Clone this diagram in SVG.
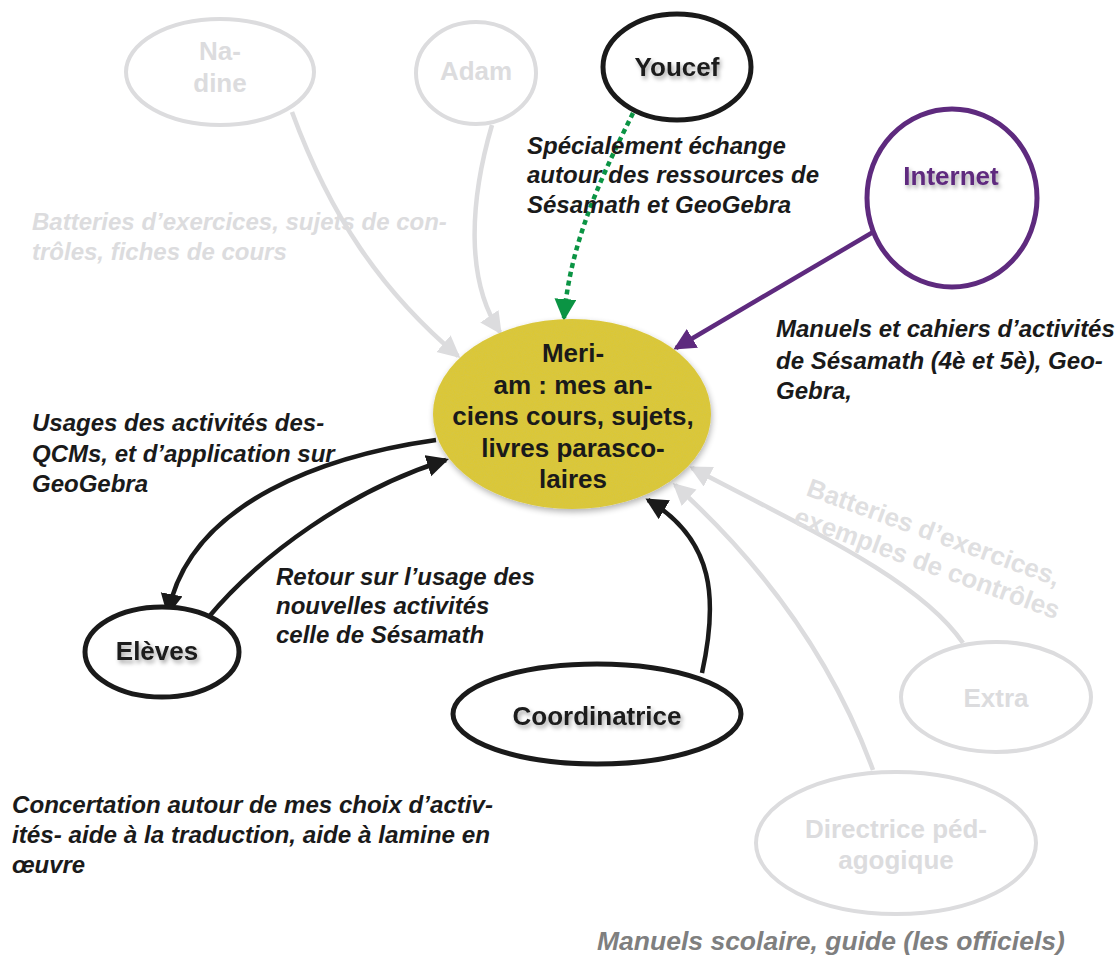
<svg xmlns="http://www.w3.org/2000/svg" width="1118" height="959" viewBox="0 0 1118 959">
<defs>
<style>
.n{font-family:"Liberation Sans",Arial,Helvetica,sans-serif;font-weight:bold;font-size:26px;text-anchor:middle}
.l{font-family:"Liberation Sans",Arial,Helvetica,sans-serif;font-weight:bold;font-style:italic;font-size:24px}
.r{font-family:"Liberation Sans",Arial,Helvetica,sans-serif;font-weight:bold;font-size:26px;fill:#dfdfe1}
.gs{fill:none;stroke:#dcdcde;stroke-width:4}
.bs{fill:#fff;stroke:#1a1a1a;stroke-width:5}
.gt{fill:#dcdcde}
.bt{fill:#1a1a1a}
.c{fill:none;stroke-width:4.5}
</style>
<filter id="sh" x="-20%" y="-40%" width="140%" height="180%">
<feDropShadow dx="2" dy="3" stdDeviation="2" flood-color="#000" flood-opacity="0.35"/>
</filter>
<filter id="esh" x="-10%" y="-10%" width="120%" height="125%">
<feTurbulence type="fractalNoise" baseFrequency="0.9" numOctaves="2" seed="3" result="n"/>
<feColorMatrix in="n" type="matrix" values="0 0 0 0 0.6  0 0 0 0 0.55  0 0 0 0 0.1  0 0 0 0.6 -0.2" result="c"/>
<feComposite in="c" in2="SourceGraphic" operator="in" result="cc"/>
<feMerge result="tex"><feMergeNode in="SourceGraphic"/><feMergeNode in="cc"/></feMerge>
<feGaussianBlur in="SourceAlpha" stdDeviation="3" result="b"/>
<feOffset in="b" dx="1" dy="3" result="ob"/>
<feComponentTransfer in="ob" result="obs"><feFuncA type="linear" slope="0.3"/></feComponentTransfer>
<feMerge><feMergeNode in="obs"/><feMergeNode in="tex"/></feMerge>
</filter>
<marker id="ab" markerUnits="userSpaceOnUse" markerWidth="24" markerHeight="24" refX="19" refY="11" orient="auto"><path d="M0,0 L22,11 L0,22 z" fill="#1a1a1a"/></marker>
<marker id="ag" markerUnits="userSpaceOnUse" markerWidth="24" markerHeight="24" refX="19" refY="11" orient="auto"><path d="M0,0 L22,11 L0,22 z" fill="#dcdcde"/></marker>
<marker id="ap" markerUnits="userSpaceOnUse" markerWidth="24" markerHeight="24" refX="19" refY="11" orient="auto"><path d="M0,0 L22,11 L0,22 z" fill="#5e2a7e"/></marker>
<marker id="agr" markerUnits="userSpaceOnUse" markerWidth="24" markerHeight="24" refX="19" refY="11" orient="auto"><path d="M0,0 L22,11 L0,22 z" fill="#0b9444"/></marker>
</defs>
<rect width="1118" height="959" fill="#fff"/>

<g id="connectors">
<path class="c" stroke="#dcdcde" d="M292,112 C330,215 380,290 458,356" marker-end="url(#ag)"/>
<path class="c" stroke="#dcdcde" d="M492,125 C470,200 465,280 500,332" marker-end="url(#ag)"/>
<path class="c" stroke="#dcdcde" d="M963,643 C920,580 810,530 692,468" marker-end="url(#ag)"/>
<path class="c" stroke="#dcdcde" d="M873,770 C840,680 780,580 675,485" marker-end="url(#ag)"/>
<path class="c" stroke="#0b9444" stroke-dasharray="5 4" d="M633,113 C605,170 570,240 564,318" marker-end="url(#agr)"/>
<path class="c" stroke="#5e2a7e" d="M880,228 L676,348" marker-end="url(#ap)"/>
<path class="c" stroke="#1a1a1a" d="M436,440 C330,455 190,500 168,613" marker-end="url(#ab)"/>
<path class="c" stroke="#1a1a1a" d="M207,619 C260,555 350,490 446,460" marker-end="url(#ab)"/>
<path class="c" stroke="#1a1a1a" d="M702,673 C718,600 715,540 648,500" marker-end="url(#ab)"/>
</g>

<g id="nadine">
<ellipse class="gs" fill="#fff" cx="220" cy="72" rx="94" ry="53"/>
<text class="n gt" x="220" y="60">Na-</text>
<text class="n gt" x="220" y="92">dine</text>
</g>
<g id="adam">
<ellipse class="gs" fill="#fff" cx="476" cy="73" rx="60" ry="51"/>
<text class="n gt" x="476" y="80">Adam</text>
</g>
<g id="youcef">
<ellipse class="bs" cx="677" cy="67" rx="74" ry="53"/>
<text class="n bt" x="677" y="76" filter="url(#sh)">Youcef</text>
</g>
<g id="internet">
<ellipse fill="#fff" stroke="#5e2a7e" stroke-width="5" cx="952" cy="198" rx="85" ry="89"/>
<text class="n" fill="#5e2a7e" x="951" y="185" filter="url(#sh)">Internet</text>
</g>
<g id="meriam">
<ellipse fill="#dbc738" cx="572" cy="414" rx="139" ry="95" filter="url(#esh)"/>
<text class="n bt" x="573" y="362">Meri-</text>
<text class="n bt" x="573" y="394">am : mes an-</text>
<text class="n bt" x="573" y="425">ciens cours, sujets,</text>
<text class="n bt" x="573" y="457">livres parasco-</text>
<text class="n bt" x="573" y="488">laires</text>
</g>
<g id="eleves">
<ellipse class="bs" cx="162" cy="652" rx="77" ry="45"/>
<text class="n bt" x="157" y="660" filter="url(#sh)">Elèves</text>
</g>
<g id="coordinatrice">
<ellipse class="bs" cx="597" cy="714" rx="144" ry="50"/>
<text class="n bt" x="597" y="725" filter="url(#sh)">Coordinatrice</text>
</g>
<g id="extra">
<ellipse class="gs" fill="#fff" cx="996" cy="697" rx="95" ry="55"/>
<text class="n gt" x="996" y="707">Extra</text>
</g>
<g id="directrice">
<ellipse class="gs" fill="#fff" cx="896" cy="843" rx="140" ry="71"/>
<text class="n gt" x="896" y="838">Directrice péd-</text>
<text class="n gt" x="896" y="869">agogique</text>
</g>

<g id="labels">
<text class="l gt" x="32" y="230">Batteries d’exercices, sujets de con-</text>
<text class="l gt" x="32" y="260">trôles, fiches de cours</text>
<text class="l bt" x="527" y="154">Spécialement échange</text>
<text class="l bt" x="527" y="183">autour des ressources de</text>
<text class="l bt" x="527" y="213">Sésamath et GeoGebra</text>
<text class="l bt" x="776" y="337">Manuels et cahiers d’activités</text>
<text class="l bt" x="776" y="369">de Sésamath (4è et 5è), Geo-</text>
<text class="l bt" x="776" y="399">Gebra,</text>
<text class="l bt" x="32" y="431">Usages des activités des-</text>
<text class="l bt" x="32" y="462">QCMs, et d’application sur</text>
<text class="l bt" x="32" y="492">GeoGebra</text>
<text class="l bt" x="276" y="585">Retour sur l’usage des</text>
<text class="l bt" x="276" y="614">nouvelles activités</text>
<text class="l bt" x="276" y="643">celle de Sésamath</text>
<text class="l bt" x="12" y="813" textLength="481" lengthAdjust="spacingAndGlyphs">Concertation autour de mes choix d’activ-</text>
<text class="l bt" x="12" y="843" textLength="478" lengthAdjust="spacingAndGlyphs">ités- aide à la traduction, aide à lamine en</text>
<text class="l bt" x="12" y="873" textLength="73" lengthAdjust="spacingAndGlyphs">œuvre</text>
<g transform="translate(805,495) rotate(20)">
<text class="r" x="0" y="0">Batteries d’exercices,</text>
<text class="r" x="-2" y="31">exemples de contrôles</text>
</g>
<text class="l" fill="#7f7f7f" x="597" y="950" style="font-size:26.5px">Manuels scolaire, guide (les officiels)</text>
</g>
</svg>
